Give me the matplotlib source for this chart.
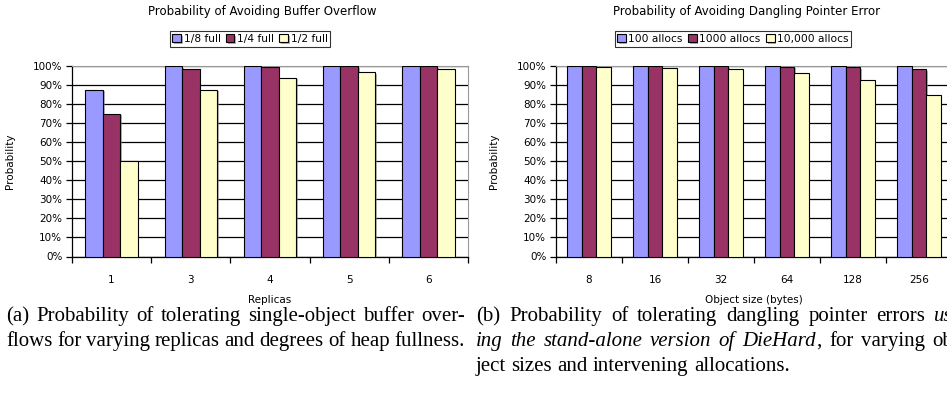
import numpy as np
import matplotlib
matplotlib.use('Agg')
import matplotlib.pyplot as plt
import matplotlib.patheffects as pe
from matplotlib.ticker import FixedLocator, NullFormatter, PercentFormatter

# ---------------- data ----------------
replicas = ['1', '3', '4', '5', '6']
overflow_names = ['1/8 full', '1/4 full', '1/2 full']
overflow_1_8 = [87.5, 100.0, 100.0, 100.0, 100.0]
overflow_1_4 = [75.0, 98.4, 99.6, 99.9, 100.0]
overflow_1_2 = [50.0, 87.5, 93.8, 96.9, 98.4]

obj_sizes = ['8', '16', '32', '64', '128', '256']
dangling_names = ['100 allocs', '1000 allocs', '10,000 allocs']
dangling_100 = [100.0, 100.0, 100.0, 100.0, 100.0, 100.0]
dangling_1000 = [100.0, 100.0, 99.9, 99.7, 99.3, 98.4]
dangling_10000 = [99.6, 99.0, 98.2, 96.5, 92.6, 85.0]

colors = ['#9999FF', '#993366', '#FFFFCC']

caption_a = ["(a) Probability of tolerating single-object buffer over-",
             "flows for varying replicas and degrees of heap fullness."]
caption_b = ["(b) Probability of tolerating dangling pointer errors *us-*",
             "*ing the stand-alone version of DieHard*, for varying ob-",
             "ject sizes and intervening allocations."]

W, H = 947, 397
FONT = 'DejaVu Sans'
plt.rcParams['font.family'] = [FONT]

fig = plt.figure(figsize=(W / 100, H / 100), dpi=100)
fig.patch.set_facecolor('white')

shadow = [pe.SimplePatchShadow(offset=(1.2, -1.2), shadow_rgbFace='#808080', alpha=0.6),
          pe.Normal()]


def draw_chart(rect, cats, series, names, title, xlabel, title_x, legend_x):
    ax = fig.add_axes(rect)
    n = len(cats)
    centers = np.arange(n) + 0.5
    w = 0.22
    for k, (vals, name, c) in enumerate(zip(series, names, colors)):
        bars = ax.bar(centers + (k - 1) * w, vals, w, color=c, edgecolor='black',
                      linewidth=0.8, label=name, zorder=3)
        for b in bars:
            b.set_path_effects(shadow)
    ax.set_xlim(0, n)
    ax.set_ylim(0, 100)
    ax.yaxis.set_major_locator(FixedLocator(np.arange(0, 101, 10)))
    ax.yaxis.set_major_formatter(PercentFormatter(decimals=0))
    ax.grid(axis='y', color='black', linewidth=0.9, zorder=1)
    ax.set_axisbelow(True)
    ax.xaxis.set_major_locator(FixedLocator(np.arange(0, n + 1)))
    ax.xaxis.set_major_formatter(NullFormatter())
    ax.xaxis.set_minor_locator(FixedLocator(centers))
    ax.set_xticklabels(cats, minor=True)
    ax.tick_params(axis='x', which='minor', length=0, pad=13, labelsize=7.5)
    ax.tick_params(axis='x', which='major', length=4, width=0.9, direction='out')
    ax.tick_params(axis='y', length=4, width=0.9, direction='out', pad=3, labelsize=7.5)
    for s in ['top', 'right']:
        ax.spines[s].set_color('#999999')
    for s in ['left', 'bottom']:
        ax.spines[s].set_color('black')
        ax.spines[s].set_linewidth(0.9)
    ax.set_ylabel('Probability', fontsize=7.5)
    ax.yaxis.set_label_coords(-0.145, 0.5)
    ax.set_xlabel(xlabel, fontsize=7.5)
    ax.xaxis.set_label_coords(0.5, -0.2)
    fig.text(title_x / W, 1 - 11 / H, title, ha='center', va='center', fontsize=8.5)
    leg = fig.legend(*ax.get_legend_handles_labels(), loc='center',
                     bbox_to_anchor=(legend_x / W, 1 - 39 / H), ncol=3,
                     fontsize=7.7, frameon=True, fancybox=False, edgecolor='black',
                     handlelength=0.8, handleheight=0.8, handletextpad=0.25,
                     columnspacing=0.5, borderpad=0.25, borderaxespad=0)
    leg.get_frame().set_linewidth(0.8)
    return ax


top_px, bot_px = 66, 256.5
draw_chart([72 / W, 1 - bot_px / H, (468 - 72) / W, (bot_px - top_px) / H],
           replicas, [overflow_1_8, overflow_1_4, overflow_1_2], overflow_names,
           'Probability of Avoiding Buffer Overflow', 'Replicas', 262, 250)
draw_chart([556 / W, 1 - bot_px / H, (952 - 556) / W, (bot_px - top_px) / H],
           obj_sizes, [dangling_100, dangling_1000, dangling_10000], dangling_names,
           'Probability of Avoiding Dangling Pointer Error', 'Object size (bytes)', 747, 733)

# ---------------- captions (justified, word by word) ----------------
CAP_FONT = 'Liberation Serif'
CAP_SIZE = 15
fig.canvas.draw()
renderer = fig.canvas.get_renderer()


def parse_words(line, italic_start):
    words = []
    italic = italic_start
    for word in line.split(' '):
        pieces = []
        parts = word.split('*')
        for i, p in enumerate(parts):
            if i > 0:
                italic = not italic
            if p:
                pieces.append((p, italic))
        words.append(pieces)
    return words, italic


def place_line(words, x0, x1, baseline, justify):
    arts = []
    widths = []
    for pieces in words:
        ws = []
        ts = []
        for p, it in pieces:
            t = fig.text(0, 1 - baseline / H, p, fontsize=CAP_SIZE, family=CAP_FONT,
                         style='italic' if it else 'normal', va='baseline', ha='left')
            bb = t.get_window_extent(renderer)
            ws.append(bb.width)
            ts.append(t)
        arts.append(ts)
        widths.append(ws)
    tot = sum(sum(w) for w in widths)
    sp_t = fig.text(0, 0, 'a a', fontsize=CAP_SIZE, family=CAP_FONT)
    sp_a = fig.text(0, 0, 'aa', fontsize=CAP_SIZE, family=CAP_FONT)
    natural = sp_t.get_window_extent(renderer).width - sp_a.get_window_extent(renderer).width
    sp_t.remove(); sp_a.remove()
    if justify and len(words) > 1:
        space = (x1 - x0 - tot) / (len(words) - 1)
    else:
        space = natural
    x = x0
    for ts, ws in zip(arts, widths):
        for t, w in zip(ts, ws):
            t.set_x(x / W)
            x += w
        x += space


it = False
for i, line in enumerate(caption_a):
    words, it = parse_words(line, it)
    place_line(words, 6, 465, 321 + 25 * i, True)

it = False
for i, line in enumerate(caption_b):
    words, it = parse_words(line, it)
    place_line(words, 476, 960, 321 + 25 * i, i < 2)

fig.savefig('out.png', dpi=100, facecolor='white')
